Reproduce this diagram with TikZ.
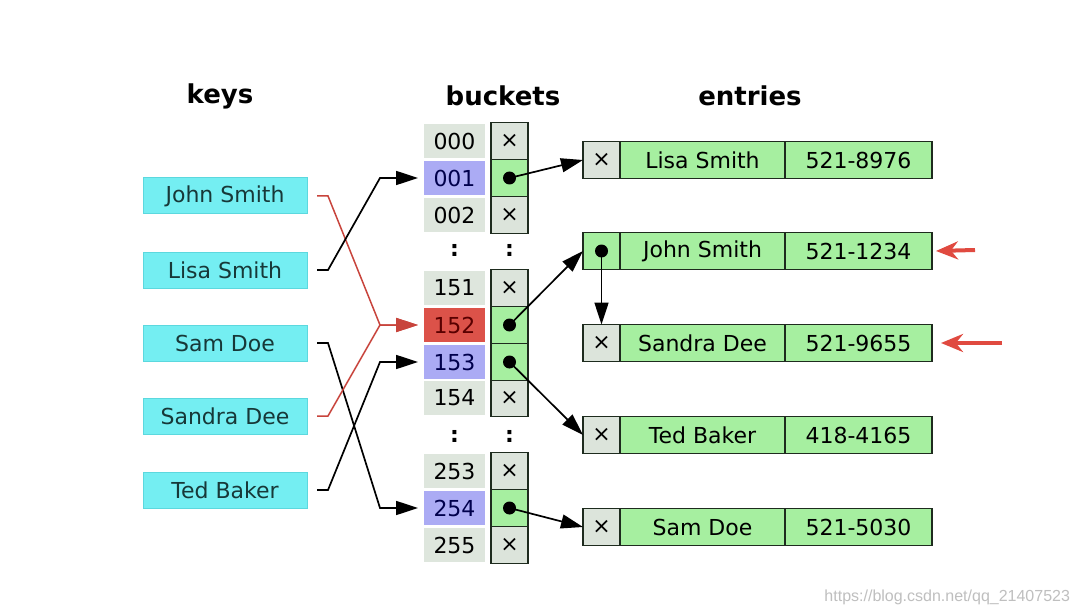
\documentclass[tikz,border=0pt]{standalone}
\usepackage{fontspec}
\setmainfont{DejaVu Sans}
\newfontfamily\wmfont{Liberation Sans}
\usetikzlibrary{arrows.meta,positioning}
\definecolor{keycyan}{HTML}{74EEF2}
\definecolor{keyedge}{HTML}{5CD8DE}
\definecolor{keytext}{HTML}{173838}
\definecolor{numgray}{HTML}{DEE6DD}
\definecolor{numblue}{HTML}{ABABF4}
\definecolor{numred}{HTML}{DC5249}
\definecolor{nilgray}{HTML}{DCE4DB}
\definecolor{ptrgreen}{HTML}{A6EFA0}
\definecolor{celledge}{HTML}{1E2B1E}
\definecolor{hotred}{HTML}{C8443C}
\definecolor{flagred}{HTML}{E04A40}

\begin{document}
\begin{tikzpicture}[x=1pt,y=-1pt, every node/.style={font=\fontsize{22}{26}\selectfont,inner sep=0pt,outer sep=0pt},
  head/.style={font=\fontsize{26}{30}\selectfont\bfseries},
  key/.style={fill=keycyan,draw=keyedge,line width=1pt,text=keytext,minimum width=164pt,minimum height=36pt},
  num/.style={fill=numgray,minimum width=61pt,minimum height=34pt},
  numb/.style={num,fill=numblue,text=blue!30!black},
  numr/.style={num,fill=numred,text=red!35!black},
  cell/.style={draw=celledge,line width=1.6pt,minimum width=37pt,minimum height=37pt},
  xcell/.style={cell,fill=nilgray,path picture={\node[text=black] at (path picture bounding box.center) {×};}},
  dcell/.style={cell,fill=ptrgreen,path picture={\fill[black] (path picture bounding box.center) circle (6.5pt);}},
  ename/.style={cell,fill=ptrgreen,minimum width=165pt},
  enum/.style={cell,fill=ptrgreen,minimum width=147pt},
  vdots/.style={font=\fontsize{22}{26}\selectfont\bfseries},
  link/.style={draw=black,line width=1.7pt,-{Triangle[length=22pt,width=14pt]}},
  keylink/.style={link,shorten >=6pt},
  hot/.style={keylink,draw=hotred,line width=1.5pt},
  flag/.style={draw=flagred,line width=4pt,-{Stealth[length=22pt,width=18pt]}},
  wm/.style={font=\wmfont\fontsize{16}{18}\selectfont,text=black!25}]
\useasboundingbox[fill=white] (0,0) rectangle (1080,615);
% column titles
\node[head] (hkeys) at (220,96) {keys};
\node[head] (hbuckets) at (503,96) {buckets};
\node[head] (hentries) at (750,96) {entries};
% keys
\foreach \n/\t/\y in {John/John Smith/196,Lisa/Lisa Smith/270,Sam/Sam Doe/343,Sandra/Sandra Dee/416,Ted/Ted Baker/490}
  \node[key] (k\n) at (225,\y) {\t};
% buckets
\foreach \b/\y/\s in {000/141/num,001/178/numb,002/215/num,151/288/num,152/325/numr,153/362/numb,154/398/num,253/471/num,254/508/numb,255/545/num}
  \node[\s] (b\b) at (454.5,\y) {\b};
\foreach \b/\y in {000/141,002/215,151/288,154/398,253/471,255/545}
  \node[xcell] (p\b) at (509.5,\y) {};
\foreach \b/\y in {001/178,152/325,153/362,254/508}
  \node[dcell] (p\b) at (509.5,\y) {};
\node[vdots] (dots1) at (454.5,250) {:};
\node[vdots] (dots2) at (509.5,250) {:};
\node[vdots] (dots3) at (454.5,436) {:};
\node[vdots] (dots4) at (509.5,436) {:};
% entries
\foreach \n/\t/\p/\y/\s in {Lisa/Lisa Smith/521-8976/160/xcell,John/John Smith/521-1234/251/dcell,Sandra/Sandra Dee/521-9655/343/xcell,Ted/Ted Baker/418-4165/435/xcell,Sam/Sam Doe/521-5030/527/xcell}{
  \node[\s] (e\n) at (601.5,\y) {};
  \node[ename,right=0pt of e\n] (e\n-name) {\t};
  \node[enum,right=0pt of e\n-name] (e\n-num) {\p};
}
% hash function
\draw[hot] ([xshift=10pt]kJohn.east) -- ++(11,0) -- ([xshift=-44pt]b152.west) -- (b152.west);
\draw[keylink] ([xshift=10pt]kLisa.east) -- ++(11,0) -- ([xshift=-44pt]b001.west) -- (b001.west);
\draw[keylink] ([xshift=10pt]kSam.east) -- ++(11,0) -- ([xshift=-44pt]b254.west) -- (b254.west);
\draw[hot] ([xshift=10pt]kSandra.east) -- ++(11,0) -- ([xshift=-44pt]b152.west) -- (b152.west);
\draw[keylink] ([xshift=10pt]kTed.east) -- ++(11,0) -- ([xshift=-44pt]b153.west) -- (b153.west);
% bucket pointers
\draw[link] (p001.center) -- (eLisa.west);\draw[link] (p152.center) -- (eJohn.west);\draw[link] (p153.center) -- (eTed.west);\draw[link] (p254.center) -- (eSam.west);
\draw[link] (eJohn.center) -- (eSandra.north);
% collision marks
\coordinate (fJohn) at (975,250);
\coordinate (fSandra) at (1002,343);
\draw[flag] (fJohn) -- ([xshift=4pt]eJohn-num.east);
\draw[flag] (fSandra) -- ([xshift=9pt]eSandra-num.east);
\node[wm,anchor=east] (wm) at (1070,597) {https://blog.csdn.net/qq\_21407523};
\end{tikzpicture}
\end{document}
